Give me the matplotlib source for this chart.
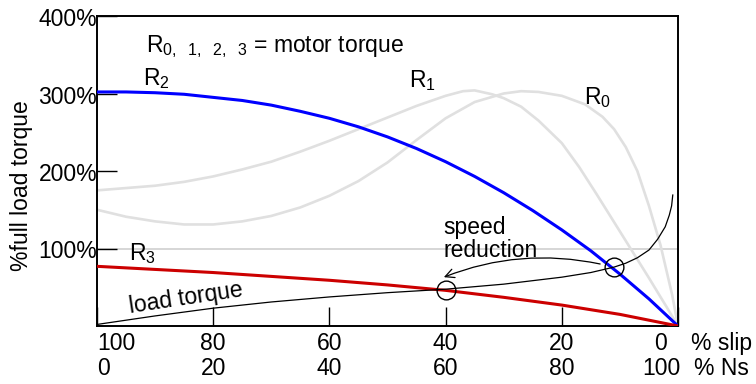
import matplotlib
matplotlib.use("Agg")
import matplotlib.pyplot as plt
import matplotlib.transforms as mtransforms

plt.rcParams["font.family"] = "Liberation Sans"
plt.rcParams["mathtext.fontset"] = "custom"
plt.rcParams["mathtext.rm"] = "Liberation Sans"
plt.rcParams["mathtext.it"] = "Liberation Sans:italic"
plt.rcParams["mathtext.bf"] = "Liberation Sans:bold"

FS = 16.5

# motor torque curves, speed in % of Ns -> torque in % of full load torque
r0_speed = [0, 5, 10, 15, 20, 25, 30, 35, 40, 45, 50, 55, 60, 65, 70, 73, 76, 80, 84, 87, 89, 91, 93, 95, 97, 99, 100]
r0_torque = [150, 141, 135, 131, 131, 135, 142, 153, 168, 187, 211, 240, 268, 289, 300, 303, 302, 297, 286, 270, 254, 231, 200, 155, 104, 40, 0]

r1_speed = [0, 5, 10, 15, 20, 25, 30, 35, 40, 45, 50, 55, 60, 63, 65, 68, 70, 73, 76, 80, 83, 86, 89, 92, 95, 98, 100]
r1_torque = [175, 178, 181, 186, 193, 202, 212, 225, 239, 254, 269, 284, 297, 303, 304, 299, 294, 283, 265, 236, 205, 170, 134, 98, 62, 25, 0]

r2_speed = [0, 5, 10, 15, 20, 25, 30, 35, 40, 45, 50, 55, 60, 65, 70, 75, 80, 85, 90, 95, 100]
r2_torque = [302, 302, 301, 299, 295, 291, 285, 277, 268, 257, 244, 229, 212, 193, 172, 149, 124, 97, 67, 35, 0]

r3_speed = [0, 10, 20, 30, 40, 50, 60, 70, 80, 90, 100]
r3_torque = [77, 73, 69, 64, 59, 53, 46, 37, 27, 15, 0]

load_speed = [0, 10, 20, 30, 40, 50, 60, 70, 80, 85, 89, 91, 93, 95, 96.5, 97.8, 98.5, 98.9, 99.1]
load_torque = [2, 13, 23, 31, 37.5, 43, 47.5, 54, 63, 69, 76, 81, 88, 98, 112, 128, 143, 155, 169]

# operating points (load torque meets R2 and R3)
op_speed = [60, 89]
op_torque = [47, 76]

ns_ticks = [0, 20, 40, 60, 80, 100]
slip_labels = ["100", "80", "60", "40", "20", "0"]
ns_labels = ["0", "20", "40", "60", "80", "100"]
y_ticks = [100, 200, 300, 400]
y_labels = ["100%", "200%", "300%", "400%"]

fig = plt.figure(figsize=(7.56, 3.84), dpi=100)
ax = fig.add_axes([97 / 756, 58 / 384, 581 / 756, 310 / 384])
ax.set_xlim(0, 100)
ax.set_ylim(0, 400)

ax.axhline(100, color="#cfcfcf", lw=1.2, zorder=1)

ax.plot(r0_speed, r0_torque, color="#e0e0e0", lw=1.9, zorder=2)
ax.plot(r1_speed, r1_torque, color="#e0e0e0", lw=1.9, zorder=2)
ax.plot(r2_speed, r2_torque, color="#0000ff", lw=2.2, zorder=3)
ax.plot(r3_speed, r3_torque, color="#cc0000", lw=2.2, zorder=3)
ax.plot(load_speed, load_torque, color="black", lw=0.9, zorder=4)
ax.plot(op_speed, op_torque, "o", ms=13.5, mfc="none", mec="black", mew=1.0, zorder=5)

# speed reduction arrow
ax.annotate("", xy=(59.7, 63), xytext=(86.6, 80),
            arrowprops=dict(arrowstyle="->", color="black", lw=0.9,
                            connectionstyle="arc3,rad=0.15",
                            shrinkA=0, shrinkB=0, mutation_scale=16))
ax.text(59.6, 142, "speed\nreduction", fontsize=FS, ha="left", va="top", linespacing=1.0)

# curve labels
ax.text(8.4, 354, r"R$_{\mathregular{0,\ \ 1,\ \ 2,\ \ 3}}$ = motor torque", fontsize=FS, ha="left", va="baseline")
ax.text(7.9, 311, r"R$_{\mathregular{2}}$", fontsize=FS, ha="left", va="baseline")
ax.text(53.7, 308, r"R$_{\mathregular{1}}$", fontsize=FS, ha="left", va="baseline")
ax.text(83.8, 286, r"R$_{\mathregular{0}}$", fontsize=FS, ha="left", va="baseline")
ax.text(5.5, 85, r"R$_{\mathregular{3}}$", fontsize=FS, ha="left", va="baseline")
ax.text(5.7, 16.8, "load torque", fontsize=FS, ha="left", va="baseline",
        rotation=8.5, rotation_mode="anchor")

# frame and inward ticks
for sp in ax.spines.values():
    sp.set_linewidth(1.4)
ax.set_xticks(ns_ticks)
ax.set_yticks(y_ticks)
ax.tick_params(axis="x", direction="in", length=13.7, width=1.0, labelbottom=False)
ax.tick_params(axis="y", direction="in", length=14.4, width=1.0, labelleft=False)

# two-row x tick labels
for i, (x, s_lab, n_lab) in enumerate(zip(ns_ticks, slip_labels, ns_labels)):
    ha = "left" if i == 0 else "center"
    dx = -17 if i == len(ns_ticks) - 1 else 0
    t1 = mtransforms.offset_copy(ax.get_xaxis_transform(), fig=fig, x=dx, y=-24, units="dots")
    t2 = mtransforms.offset_copy(ax.get_xaxis_transform(), fig=fig, x=dx, y=-49, units="dots")
    ax.text(x, 0, s_lab, transform=t1, fontsize=FS, ha=ha, va="baseline")
    ax.text(x, 0, n_lab, transform=t2, fontsize=FS, ha=ha, va="baseline")

t1 = mtransforms.offset_copy(ax.transAxes, fig=fig, x=13, y=-24, units="dots")
t2 = mtransforms.offset_copy(ax.transAxes, fig=fig, x=16, y=-49, units="dots")
ax.text(1.0, 0, "% slip", transform=t1, fontsize=FS, ha="left", va="baseline")
ax.text(1.0, 0, "% Ns", transform=t2, fontsize=FS, ha="left", va="baseline")

# y tick labels
ty = mtransforms.offset_copy(ax.get_yaxis_transform(), fig=fig, x=0, y=-10, units="dots")
for v, lab in zip(y_ticks, y_labels):
    ax.text(0, v, lab, transform=ty, fontsize=FS, ha="right", va="baseline")

fig.text(22 / 756, 1 - 186 / 384, "%full load torque", rotation=90,
         fontsize=FS, ha="center", va="center")

fig.savefig("out.png", dpi=100)
